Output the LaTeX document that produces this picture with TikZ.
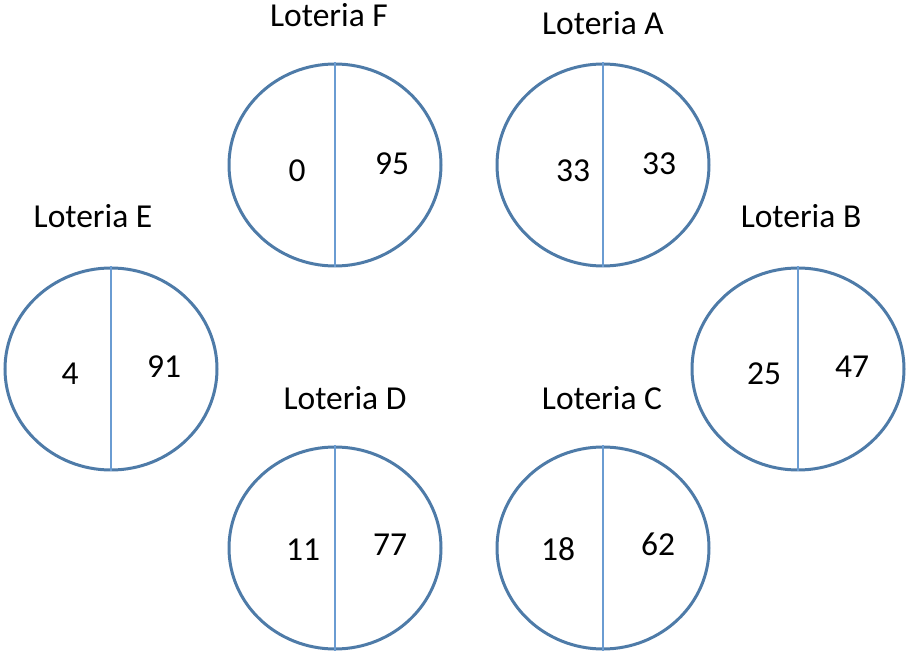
\documentclass[tikz,border=0pt]{standalone}
\usepackage{fontspec}
\setmainfont{Carlito}
\begin{document}
\begin{tikzpicture}[x=1pt,y=-1pt,
  ring/.style={draw=ringcol,line width=3pt,ellipse,minimum width=212pt,minimum height=202pt,inner sep=0pt},
  split/.style={draw=splitcol,line width=2.6pt},
  lbl/.style={anchor=base,font=\fontsize{33.5}{35}\selectfont,inner sep=0pt},
  num/.style={anchor=base,font=\fontsize{33.5}{35}\selectfont,inner sep=0pt}]
\usetikzlibrary{shapes.geometric}
\definecolor{ringcol}{HTML}{4E7BA8}
\definecolor{splitcol}{HTML}{6A9CD2}
\useasboundingbox (0,0) rectangle (906,652);
% circles
\foreach \n/\x/\y in {F/335/165, A/603/165, E/111/369, B/798/369, D/335/548, C/603/548}{
  \node[ring] (c\n) at (\x,\y) {};
  \draw[split] (c\n.north) -- (c\n.south);
}
% titles
\node[lbl] (tF) at (329,27) {Loteria F};
\node[lbl] (tA) at (603,35) {Loteria A};
\node[lbl] (tE) at (93,228) {Loteria E};
\node[lbl] (tB) at (801,228) {Loteria B};
\node[lbl] (tD) at (345,410) {Loteria D};
\node[lbl] (tC) at (602,410) {Loteria C};
% numbers
\node[num] (nF1) at (297,182) {0};
\node[num] (nF2) at (392,175) {95};
\node[num] (nA1) at (573,182) {33};
\node[num] (nA2) at (659,175) {33};
\node[num] (nE1) at (70,385) {4};
\node[num] (nE2) at (164,378) {91};
\node[num] (nB1) at (764,385) {25};
\node[num] (nB2) at (852,378) {47};
\node[num] (nD1) at (303,560) {11};
\node[num] (nD2) at (390,555) {77};
\node[num] (nC1) at (558,560) {18};
\node[num] (nC2) at (658,555) {62};
\end{tikzpicture}
\end{document}
